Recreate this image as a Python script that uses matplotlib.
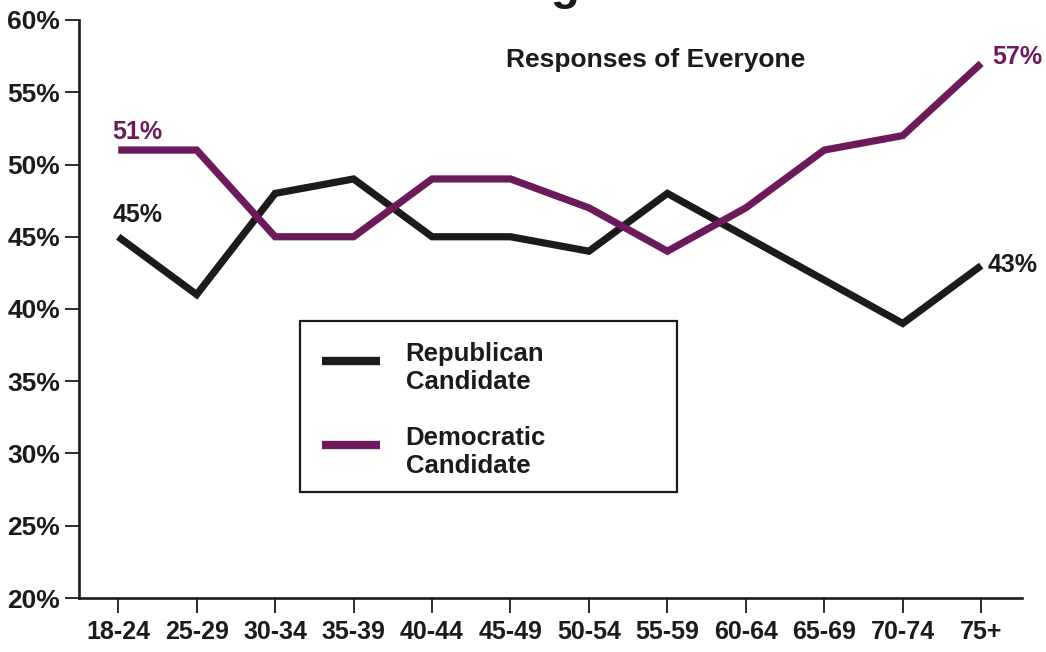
import matplotlib
matplotlib.use("Agg")
import matplotlib.pyplot as plt
from matplotlib.patches import Rectangle
from matplotlib.ticker import FuncFormatter

# Age groups and vote shares (%)
age_groups = ["18-24", "25-29", "30-34", "35-39", "40-44", "45-49",
              "50-54", "55-59", "60-64", "65-69", "70-74", "75+"]
republican = [45, 41, 48, 49, 45, 45, 44, 48, 45, 42, 39, 43]
democratic = [51, 51, 45, 45, 49, 49, 47, 44, 47, 51, 52, 57]
y_ticks = [20, 25, 30, 35, 40, 45, 50, 55, 60]

series_labels = ["Republican\nCandidate", "Democratic\nCandidate"]
subtitle = "Responses of Everyone"

BLACK = "#1b1b1b"
PURPLE = "#6c1a5c"
FONT = "Liberation Sans"

plt.rcParams["font.family"] = [FONT, "DejaVu Sans"]
plt.rcParams["font.weight"] = "bold"

W, H = 1046, 652
fig = plt.figure(figsize=(W / 100, H / 100), dpi=100)
fig.patch.set_facecolor("white")

left_px, right_px, top_px, bottom_px = 79, 1022, 20, 598
ax = fig.add_axes([left_px / W, 1 - bottom_px / H,
                   (right_px - left_px) / W, (bottom_px - top_px) / H])
ax.set_facecolor("white")

x = list(range(len(age_groups)))
line_r, = ax.plot(x, republican, color=BLACK, lw=5.2,
                  solid_capstyle="butt", solid_joinstyle="miter",
                  label=series_labels[0], zorder=3)
line_d, = ax.plot(x, democratic, color=PURPLE, lw=5.2,
                  solid_capstyle="butt", solid_joinstyle="miter",
                  label=series_labels[1], zorder=4)

ax.set_xlim(-0.5, len(age_groups) - 0.48)
ax.set_ylim(20, 60)
ax.set_xticks(x)
ax.set_xticklabels(age_groups)
ax.set_yticks(y_ticks)
ax.yaxis.set_major_formatter(FuncFormatter(lambda v, _: f"{v:.0f}%"))

for side in ("top", "right"):
    ax.spines[side].set_visible(False)
for side in ("left", "bottom"):
    ax.spines[side].set_linewidth(1.9)
    ax.spines[side].set_color(BLACK)

ax.tick_params(axis="y", direction="out", length=10, width=1.3,
               color=BLACK, pad=3.5, labelsize=19, labelcolor=BLACK)
ax.tick_params(axis="x", direction="out", length=11, width=1.3,
               color=BLACK, pad=5, labelsize=18, labelcolor=BLACK)
for lab in ax.get_xticklabels() + ax.get_yticklabels():
    lab.set_fontweight("bold")

# End-point value labels
label_style = dict(textcoords="offset pixels", fontsize=18,
                   fontweight="bold", va="baseline")
ax.annotate(f"{democratic[0]}%", (x[0], democratic[0]), xytext=(-6, 11),
            color=PURPLE, ha="left", **label_style)
ax.annotate(f"{republican[0]}%", (x[0], republican[0]), xytext=(-6, 15),
            color=BLACK, ha="left", **label_style)
ax.annotate(f"{democratic[-1]}%", (x[-1], democratic[-1]), xytext=(11, -1),
            color=PURPLE, ha="left", **label_style)
ax.annotate(f"{republican[-1]}%", (x[-1], republican[-1]), xytext=(6, -6),
            color=BLACK, ha="left", **label_style)

# Subtitle
fig.text(656 / W, 1 - 60 / H, subtitle, ha="center", va="center",
         fontsize=19, fontweight="bold", color=BLACK)

# Headline running off the top edge
fig.text(550 / W, 1 + 1 / H, "g", ha="left", va="baseline",
         fontsize=34, fontweight="bold", color=BLACK)
fig.text(579 / W, 1 + 3 / H, " the New Deal", ha="left", va="baseline",
         fontsize=34, fontweight="bold", color="#a9cccc")

# Legend with a plain rectangular frame
def ax_frac(px, py):
    return ((px - left_px) / (right_px - left_px),
            (bottom_px - py) / (bottom_px - top_px))

leg = ax.legend(handles=[line_r, line_d], loc="upper left",
                bbox_to_anchor=ax_frac(322, 342), frameon=False,
                fontsize=18.5, handlelength=2.25, handletextpad=1.0,
                labelspacing=1.25, borderpad=0, borderaxespad=0)
for t in leg.get_texts():
    t.set_fontweight("bold")
    t.set_color(BLACK)
for h in leg.legend_handles:
    h.set_linewidth(6)
    h.set_ydata([v + 5 for v in h.get_ydata()])

bx0, by0 = ax_frac(300, 492)
bx1, by1 = ax_frac(677, 321)
ax.add_patch(Rectangle((bx0, by0), bx1 - bx0, by1 - by0,
                       transform=ax.transAxes, fill=False,
                       edgecolor=BLACK, lw=1.6, zorder=5))

fig.savefig("out.png", dpi=100, facecolor="white")
